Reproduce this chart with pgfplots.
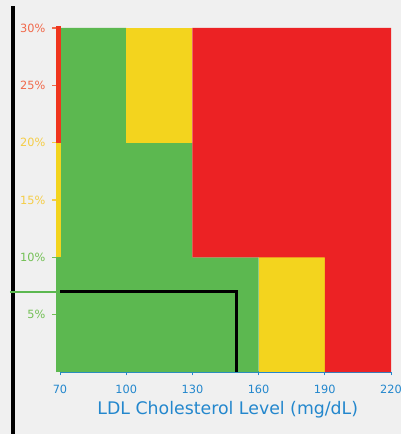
\documentclass[border=0pt]{standalone}
\usepackage{fontspec}
\setmainfont{DejaVu Sans}
\usepackage{pgfplots}
\pgfplotsset{compat=1.18}
\definecolor{bg}{RGB}{240,240,240}
\definecolor{cgreen}{RGB}{92,184,80}
\definecolor{cyellow}{RGB}{243,212,30}
\definecolor{cred}{RGB}{236,34,36}
\definecolor{cblue}{RGB}{35,135,205}
\definecolor{lred}{RGB}{240,105,75}
\definecolor{lyellow}{RGB}{245,205,70}
\definecolor{lgreen}{RGB}{115,192,85}
\begin{document}
\begin{tikzpicture}
\fill[bg] (-45pt,-46.5pt) rectangle (255.75pt,279pt);
\fill[black] (-36.75pt,-46.5pt) rectangle (-33.75pt,274.5pt);
\begin{axis}[at={(0,0)}, anchor=south west, scale only axis,
  width=248.25pt, height=258pt,
  xmin=70, xmax=220, ymin=0, ymax=30,
  clip=false,
  axis x line*=bottom, axis y line*=left,
  x axis line style={cblue, line width=1.1pt, -},
  y axis line style={draw=none},
  xtick={70,100,130,160,190,220},
  xticklabels={70,100,130,160,190,220},
  tick align=outside,
  major tick length=2.5pt,
  x tick style={cblue, line width=0.7pt},
  y tick style={draw=none},
  xticklabel style={font=\fontsize{8.5}{9}\selectfont, text=cblue, yshift=-4pt},
  ytick={5,10,15,20,25,30},
  yticklabels={\textcolor{lgreen}{5\%},\textcolor{lgreen}{10\%},\textcolor{lyellow}{15\%},\textcolor{lyellow}{20\%},\textcolor{lred}{25\%},\textcolor{lred}{30\%}},
  yticklabel style={font=\fontsize{8.5}{9}\selectfont, xshift=-5pt},
  xlabel={LDL Cholesterol Level (mg/dL)},
  xlabel style={at={(axis description cs:0.507,0)}, anchor=center, yshift=-28.5pt, font=\fontsize{13}{15}\selectfont, text=cblue},
]
\addplot[fill=cgreen, draw=none] coordinates {(70,0)(70,30)(100,30)(100,20)(130,20)(130,10)(160,10)(160,0)} --cycle;
\addplot[fill=cyellow, draw=none] coordinates {(100,20)(100,30)(130,30)(130,20)} --cycle;
\addplot[fill=cyellow, draw=none] coordinates {(160,0)(160,10)(190,10)(190,0)} --cycle;
\addplot[fill=cred, draw=none] coordinates {(130,10)(130,30)(220,30)(220,0)(190,0)(190,10)} --cycle;
% left colored axis strip
\addplot[cgreen, line width=3.5pt] coordinates {(69.4,0)(69.4,10)};
\addplot[cyellow, line width=3.5pt] coordinates {(69.4,10)(69.4,20)};
\addplot[cred!80!orange, line width=3.5pt] coordinates {(69.4,20)(69.4,30.2)};
% threshold lines
\addplot[cgreen, line width=1.4pt] coordinates {(47.3,7)(70,7)};
\addplot[black, line width=2.3pt] coordinates {(70,7)(150,7)(150,0)};
% y tick marks
\draw[lgreen, line width=0.8pt] (axis cs:68.3,5) -- (axis cs:66.2,5);
\draw[lgreen, line width=0.8pt] (axis cs:68.3,10) -- (axis cs:66.2,10);
\draw[lyellow, line width=0.8pt] (axis cs:68.3,15) -- (axis cs:66.2,15);
\draw[lyellow, line width=0.8pt] (axis cs:68.3,20) -- (axis cs:66.2,20);
\draw[lred, line width=0.8pt] (axis cs:68.3,25) -- (axis cs:66.2,25);
\draw[lred, line width=0.8pt] (axis cs:68.3,30) -- (axis cs:66.2,30);
\end{axis}
\pgfresetboundingbox
\path (-45pt,-46.5pt) rectangle (255.75pt,279pt);
\end{tikzpicture}
\end{document}
